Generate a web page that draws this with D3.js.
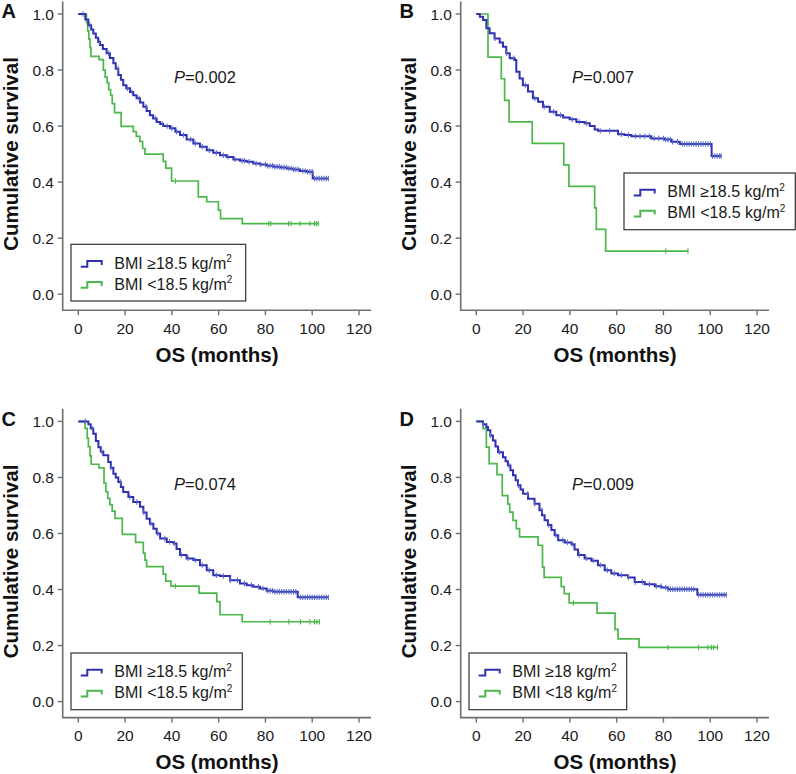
<!DOCTYPE html>
<html><head><meta charset="utf-8">
<script src="https://cdn.jsdelivr.net/npm/d3@7"></script>
<style>
body{margin:0;background:#fff;}
svg{display:block;font-family:"Liberation Sans",Arial,Helvetica,sans-serif;}
</style>
</head><body>
<svg id="chart" width="796" height="774"></svg>
<script>
// ---------- tick labels / texts ----------
const xTicks = [0, 20, 40, 60, 80, 100, 120];
const yTicks = [0.0, 0.2, 0.4, 0.6, 0.8, 1.0];
const panelLabels = ["A", "B", "C", "D"];
const pValues = ["0.002", "0.007", "0.074", "0.009"];
const legendHigh = ["BMI \u226518.5 kg/m", "BMI \u226518.5 kg/m", "BMI \u226518.5 kg/m", "BMI \u226518 kg/m"];
const legendLow  = ["BMI <18.5 kg/m", "BMI <18.5 kg/m", "BMI <18.5 kg/m", "BMI <18 kg/m"];

// ---------- Panel A ----------
const A_hiT = [0, 3, 4.3, 5.5, 6.4, 7.5, 8.5, 9.3, 10.5, 12.1, 13.5, 15.0, 16.0, 17.1, 18.2, 19.2, 20.5, 22.1, 23.5, 24.9, 26.4, 27.8, 29.2, 30.6, 32.0, 33.5, 35.0, 36.3, 39.2, 41.5, 43.5, 46.3, 49.2, 52.0, 54.9, 57.7, 60.6, 63.4, 66.3, 69.1, 72.0, 74.8, 77.7, 80.5, 83.4, 86.2, 89.1, 91.9, 94.8, 97.6, 100.2, 106.9];
const A_hiS = [1, 0.98, 0.96, 0.945, 0.93, 0.915, 0.90, 0.889, 0.875, 0.86, 0.843, 0.824, 0.805, 0.782, 0.765, 0.746, 0.735, 0.722, 0.71, 0.699, 0.684, 0.669, 0.654, 0.639, 0.627, 0.615, 0.607, 0.60, 0.592, 0.58, 0.568, 0.552, 0.538, 0.526, 0.514, 0.505, 0.496, 0.49, 0.481, 0.476, 0.4726, 0.4667, 0.463, 0.458, 0.4548, 0.452, 0.449, 0.445, 0.44, 0.437, 0.413, 0.413];
const A_hiCens = [2, 5, 9, 13, 17, 21, 23, 26, 29, 33, 36, 38, 40, 42, 45, 48, 50, 53, 56, 59, 62, 64, 67, 70, 71, 73, 76, 78, 80, 81, 82, 83, 84, 85, 86, 87, 88, 89, 90, 91, 92, 93, 94, 96, 97, 98, 99, 100, 101, 102, 103, 104, 105, 106, 106.9];
const A_loT = [0, 3.5, 4.0, 4.5, 5.0, 5.4, 8.85, 10.7, 11.5, 12.3, 13.0, 13.8, 14.5, 15.5, 18.3, 23.5, 24.8, 26.3, 27.5, 28.5, 36.3, 37.4, 39.9, 51.3, 54.9, 59.9, 60.8, 70.1, 102.6];
const A_loS = [1, 0.97, 0.94, 0.91, 0.88, 0.849, 0.837, 0.80, 0.775, 0.755, 0.73, 0.71, 0.68, 0.648, 0.599, 0.58, 0.563, 0.545, 0.52, 0.50, 0.474, 0.45, 0.404, 0.347, 0.33, 0.30, 0.27, 0.252, 0.252];
const A_loCens = [41.5, 81.4, 82.3, 89.9, 90.9, 94.7, 99, 101, 101.8, 102.6];

// ---------- Panel B ----------
const B_hiT = [0, 1.5, 2.9, 4.3, 5.7, 7.8, 10.0, 11.4, 12.8, 14.3, 16.4, 17.1, 18.5, 19.9, 22.1, 24.2, 26.4, 28.5, 31.4, 34.2, 37.1, 39.9, 42.8, 46.3, 48.5, 50.6, 52.0, 60.6, 63.4, 66.3, 74.8, 80.5, 83.4, 87.0, 100.6, 104.7];
const B_hiS = [1, 0.99, 0.979, 0.949, 0.931, 0.913, 0.898, 0.883, 0.86, 0.842, 0.836, 0.794, 0.77, 0.746, 0.723, 0.699, 0.687, 0.669, 0.651, 0.639, 0.631, 0.624, 0.615, 0.61, 0.60, 0.588, 0.583, 0.571, 0.568, 0.564, 0.556, 0.552, 0.544, 0.536, 0.493, 0.493];
const B_hiCens = [8, 13, 16, 21, 25, 29, 33, 36, 41, 44, 47, 53, 57, 62, 65, 68, 70, 72, 74, 76, 78, 80, 81, 82, 83, 84, 86, 88, 89, 90, 91, 92, 93, 94, 95, 96, 97, 98, 99, 100, 101, 102, 103, 104, 104.7];
const B_loT = [0, 5.0, 10.7, 12.1, 14.0, 23.9, 37.4, 39.6, 50.6, 51.3, 55.3, 90.5];
const B_loS = [1, 0.846, 0.769, 0.692, 0.615, 0.538, 0.4615, 0.385, 0.308, 0.231, 0.154, 0.154];
const B_loCens = [81.0, 90.5];

// ---------- Panel C ----------
const C_hiT = [0, 4.3, 5.3, 6.4, 7.5, 8.6, 9.6, 10.7, 12.8, 13.9, 15.0, 16.0, 17.1, 18.2, 19.2, 21.4, 23.5, 26.4, 27.8, 29.2, 30.6, 32.1, 33.5, 35.0, 37.8, 40.7, 42.0, 43.5, 46.3, 49.2, 52.0, 54.9, 57.7, 60.6, 64.9, 69.1, 72.0, 74.8, 77.7, 80.5, 83.4, 93.8, 106.9];
const C_hiS = [1, 0.99, 0.975, 0.956, 0.93, 0.908, 0.893, 0.879, 0.855, 0.835, 0.813, 0.80, 0.784, 0.766, 0.748, 0.73, 0.7125, 0.695, 0.675, 0.653, 0.635, 0.617, 0.60, 0.582, 0.57, 0.564, 0.545, 0.523, 0.511, 0.505, 0.487, 0.469, 0.451, 0.448, 0.433, 0.4215, 0.4156, 0.41, 0.404, 0.3955, 0.392, 0.372, 0.372];
const C_hiCens = [3, 6, 10, 14, 18, 22, 25, 28, 31, 34, 37, 39, 41, 44, 47, 50, 53, 56, 59, 62, 65, 68, 71, 74, 77, 79, 81, 82, 83, 84, 85, 86, 87, 88, 89, 90, 91, 92, 93, 95, 96, 97, 98, 99, 100, 101, 102, 103, 104, 105, 106, 106.9];
const C_loT = [0, 2.9, 3.8, 4.3, 5.0, 5.5, 8.85, 11.0, 11.8, 12.6, 13.5, 14.5, 15.7, 18.8, 24.5, 27.8, 28.5, 29.2, 36.3, 37.4, 39.6, 51.6, 59.2, 60.6, 70.1, 103.1];
const C_loS = [1, 0.975, 0.94, 0.91, 0.877, 0.847, 0.834, 0.78, 0.749, 0.725, 0.703, 0.68, 0.654, 0.597, 0.568, 0.53, 0.505, 0.482, 0.455, 0.43, 0.412, 0.387, 0.357, 0.31, 0.285, 0.285];
const C_loCens = [41.5, 82, 90, 95, 99, 101, 102, 103.1];

// ---------- Panel D ----------
const D_hiT = [0, 2.9, 4.3, 5.0, 6.0, 7.1, 8.2, 9.3, 11.4, 12.5, 13.5, 14.6, 15.7, 16.8, 17.8, 18.9, 20.0, 22.1, 24.9, 27.0, 28.1, 29.2, 30.6, 32.1, 33.5, 35.0, 37.8, 40.7, 42.0, 43.5, 46.3, 49.2, 52.0, 54.9, 57.7, 60.6, 64.9, 67.7, 72.0, 76.3, 79.1, 82.0, 94.5, 106.9];
const D_hiS = [1, 0.99, 0.98, 0.968, 0.95, 0.932, 0.91, 0.89, 0.872, 0.858, 0.843, 0.826, 0.808, 0.79, 0.772, 0.757, 0.742, 0.724, 0.706, 0.683, 0.665, 0.647, 0.63, 0.612, 0.594, 0.576, 0.568, 0.562, 0.543, 0.523, 0.511, 0.503, 0.487, 0.469, 0.457, 0.451, 0.443, 0.427, 0.419, 0.412, 0.407, 0.401, 0.381, 0.381];
const D_hiCens = [3, 6, 10, 14, 18, 22, 25, 28, 31, 34, 37, 39, 41, 44, 47, 50, 53, 56, 59, 62, 65, 68, 71, 74, 77, 79, 81, 82, 83, 84, 85, 86, 87, 88, 89, 90, 91, 92, 93, 95, 96, 97, 98, 99, 100, 101, 102, 103, 104, 105, 106, 106.9];
const D_loT = [0, 2.9, 4.3, 5.5, 8.85, 11.1, 13.5, 14.3, 15.7, 17.1, 18.5, 26.4, 28.3, 29.0, 36.3, 37.6, 39.7, 51.6, 59.3, 60.6, 69.6, 103.1];
const D_loS = [1, 0.974, 0.908, 0.849, 0.81, 0.735, 0.705, 0.676, 0.647, 0.617, 0.588, 0.558, 0.48, 0.443, 0.41, 0.385, 0.352, 0.316, 0.258, 0.224, 0.1935, 0.1935];
const D_loCens = [41.5, 82, 95, 99, 100.5, 101.5, 103.1];

// ---------- assemble ----------
const panels = [
  {hiT:A_hiT, hiS:A_hiS, hiC:A_hiCens, loT:A_loT, loS:A_loS, loC:A_loCens},
  {hiT:B_hiT, hiS:B_hiS, hiC:B_hiCens, loT:B_loT, loS:B_loS, loC:B_loCens},
  {hiT:C_hiT, hiS:C_hiS, hiC:C_hiCens, loT:C_loT, loS:C_loS, loC:C_loCens},
  {hiT:D_hiT, hiS:D_hiS, hiC:D_hiCens, loT:D_loT, loS:D_loS, loC:D_loCens}
];
const offsets = [[0,0],[398,0],[0,407.4],[398,407.4]];
const legendBox = [[71,244.3,174.7],[226,173,171.3],[71,245.6,171.3],[71,245.6,157.7]];

const BLUE = "#3030b2", BLUE_C = "#5a6cc8", GREEN = "#4cb84c";
const AXIS = "#6f6f6f";

const svg = d3.select("#chart");
const x = d3.scaleLinear().domain([0,120]).range([78.3,359]);
const y = d3.scaleLinear().domain([0,1]).range([294.2,14]);
const line = d3.line().x(d=>x(d[0])).y(d=>y(d[1])).curve(d3.curveStepAfter);

function survAt(T,S,t){ let v=S[0]; for(let i=0;i<T.length;i++){ if(T[i]<=t) v=S[i]; } return v; }

panels.forEach((p,i)=>{
  const g = svg.append("g").attr("transform",`translate(${offsets[i][0]},${offsets[i][1]})`);
  // axes lines
  g.append("line").attr("x1",62.7).attr("x2",62.7).attr("y1",y(1)-12.6).attr("y2",310.2)
    .attr("stroke",AXIS).attr("stroke-width",1.6);
  g.append("line").attr("x1",61.9).attr("x2",x(120)+12).attr("y1",310.2).attr("y2",310.2)
    .attr("stroke",AXIS).attr("stroke-width",1.6);
  // y ticks
  yTicks.forEach(v=>{
    g.append("line").attr("x1",57.7).attr("x2",62.7).attr("y1",y(v)).attr("y2",y(v))
      .attr("stroke",AXIS).attr("stroke-width",1.4);
    g.append("text").attr("x",54).attr("y",y(v)).attr("dy","0.36em").attr("text-anchor","end")
      .attr("font-size","15.5px").attr("fill","#1a1a1a").text(d3.format(".1f")(v));
  });
  // x ticks
  xTicks.forEach(v=>{
    g.append("line").attr("x1",x(v)).attr("x2",x(v)).attr("y1",310.2).attr("y2",315.2)
      .attr("stroke",AXIS).attr("stroke-width",1.4);
    g.append("text").attr("x",x(v)).attr("y",333.8).attr("text-anchor","middle")
      .attr("font-size","15.5px").attr("fill","#1a1a1a").text(v);
  });
  // titles
  g.append("text").attr("transform","translate(18,154) rotate(-90)").attr("text-anchor","middle")
    .attr("font-size","20.5px").attr("font-weight","bold").attr("fill","#111").text("Cumulative survival");
  g.append("text").attr("x",217).attr("y",361.7).attr("text-anchor","middle")
    .attr("font-size","20.5px").attr("font-weight","bold").attr("fill","#111").text("OS (months)");
  g.append("text").attr("x",1.5).attr("y",18.3).attr("font-size","20px").attr("font-weight","bold")
    .attr("fill","#111").text(panelLabels[i]);
  // P value
  const pt = g.append("text").attr("x",174).attr("y",82.5).attr("font-size","16.5px").attr("fill","#1a1a1a");
  pt.append("tspan").attr("font-style","italic").text("P");
  pt.append("tspan").text("="+pValues[i]);

  // curves
  const hi = p.hiT.map((t,k)=>[t,p.hiS[k]]);
  const lo = p.loT.map((t,k)=>[t,p.loS[k]]);
  g.append("path").attr("d",line(lo)).attr("fill","none").attr("stroke",GREEN).attr("stroke-width",1.7);
  g.selectAll(null).data(p.loC).enter().append("line")
    .attr("x1",d=>x(d)).attr("x2",d=>x(d))
    .attr("y1",d=>y(survAt(p.loT,p.loS,d))-2.7).attr("y2",d=>y(survAt(p.loT,p.loS,d))+2.7)
    .attr("stroke",GREEN).attr("stroke-width",1.1);
  g.append("path").attr("d",line(hi)).attr("fill","none").attr("stroke",BLUE).attr("stroke-width",2);
  g.selectAll(null).data(p.hiC).enter().append("line")
    .attr("x1",d=>x(d)).attr("x2",d=>x(d))
    .attr("y1",d=>y(survAt(p.hiT,p.hiS,d))-2.7).attr("y2",d=>y(survAt(p.hiT,p.hiS,d))+2.7)
    .attr("stroke",BLUE_C).attr("stroke-width",1.1);

  // legend
  const [lx,ly,lw] = legendBox[i];
  const lg = g.append("g");
  lg.append("rect").attr("x",lx).attr("y",ly).attr("height",56.7).attr("width",lw)
    .attr("fill","#fff").attr("stroke","#333").attr("stroke-width",1.2);
  const rows = [[legendHigh[i],BLUE],[legendLow[i],GREEN]];
  rows.forEach((r,k)=>{
    const yb = ly + 24.2 + k*21;
    const ix = lx + 9.7;
    lg.append("path").attr("d",`M${ix},${yb-1.8}H${ix+6.6}V${yb-7.5}H${ix+21}V${yb-3.6}`)
      .attr("fill","none").attr("stroke",r[1]).attr("stroke-width",2);
    const t = lg.append("text").attr("x",lx+43.3).attr("y",yb).attr("font-size","16px").attr("fill","#1a1a1a");
    t.append("tspan").text(r[0]);
    t.append("tspan").attr("font-size","10px").attr("dy","-6.5").text("2");
  });
});
</script>
</body></html>
